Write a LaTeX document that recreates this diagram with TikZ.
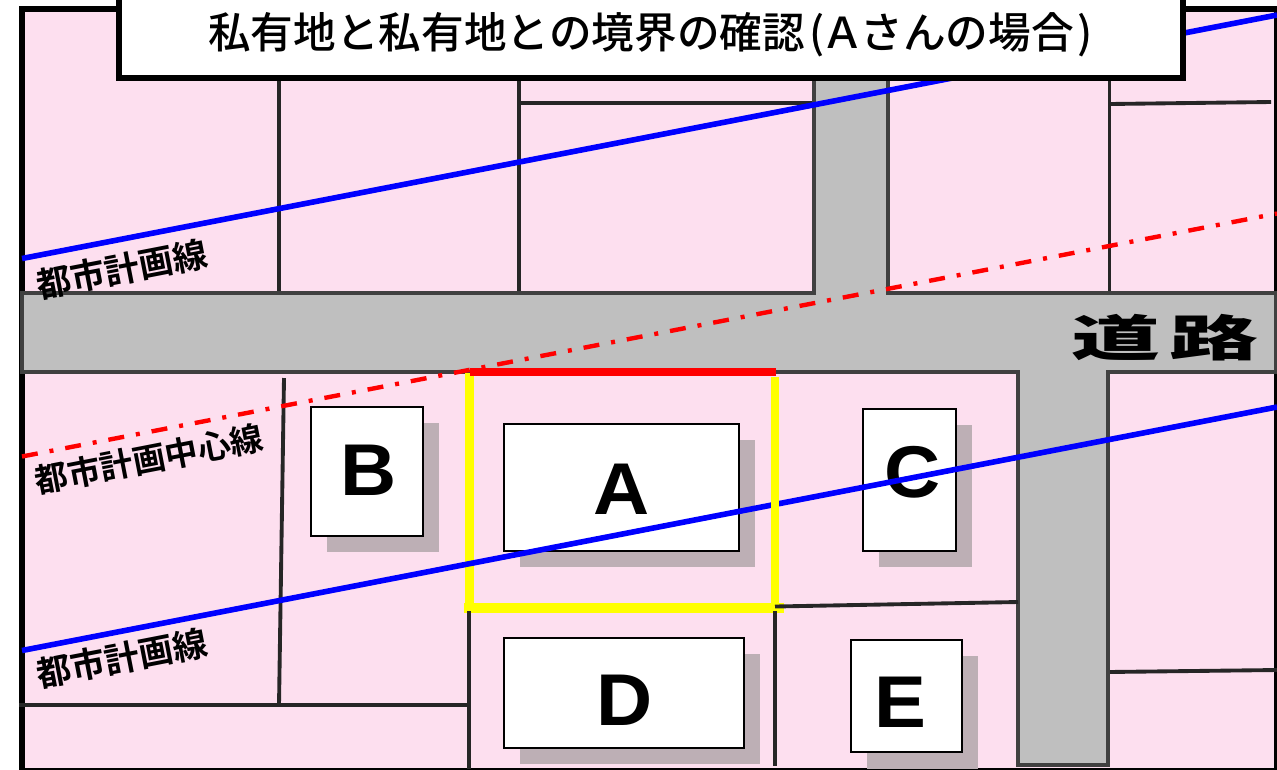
\documentclass[tikz,border=0pt]{standalone}
\usepackage{fontspec}
\setmainfont{Liberation Sans}
\newfontfamily\jp{Noto Sans CJK JP Medium}
\newfontfamily\jplabel{Noto Sans CJK JP Bold}
\newfontfamily\jpb{Noto Sans CJK JP Black}
\definecolor{pinkland}{HTML}{FDDFEF}
\definecolor{roadgray}{HTML}{BFBFBF}
\definecolor{roadedge}{HTML}{404040}
\definecolor{lotline}{HTML}{262626}
\definecolor{shadowc}{HTML}{BDAFB5}
\definecolor{yellowc}{HTML}{FFFF00}
\definecolor{redc}{HTML}{FF0000}
\definecolor{bluec}{HTML}{0000FF}
\tikzset{
  x=0.75pt,y=-0.75pt,
  lot/.style={draw=lotline,line width=2.9pt},
  bld/.style={draw=black,fill=white,line width=1.5pt},
  shadowrect/.style={fill=shadowc},
  letter/.style={font=\fontsize{55}{55}\selectfont\bfseries,inner sep=0pt,text=black},
  plan/.style={rotate=11,font=\jplabel\fontsize{#1}{#1}\selectfont,inner sep=0pt,text=black},
  citybl/.style={draw=bluec,line width=4.2pt},
  parcel/.style={draw=yellowc,line width=#1},
}
\newcommand{\bigletter}[1]{\scalebox{1.06}[1]{#1}}
\begin{document}
\begin{tikzpicture}
\useasboundingbox (0,0) rectangle (1277,769);
\clip (0,0) rectangle (1277,769);
\fill[white] (0,0) rectangle (1277,769);
% land
\draw[fill=pinkland,line width=3.8pt] (22,9) rectangle (1277,771);
% lot lines
\draw[lot] (279,78) -- (279,293);
\draw[lot] (519,78) -- (519,293);
\draw[lot] (519,103) -- (814,103);
\draw[lot] (1109.5,78) -- (1109.5,293);
\draw[lot] (1109.5,104) -- (1271,102);
\draw[lot] (284,378) -- (279,705);
\draw[lot] (19,705) -- (467,705);
\draw[lot] (1108,672) -- (1277,670);
% roads
\draw[fill=roadgray,draw=roadedge,line width=2.9pt,line join=miter]
  (22,293) -- (814,293) -- (814,70) -- (888,70) -- (888,293) -- (1276,293) -- (1276,372)
  -- (1108,372) -- (1108,765) -- (1018,765) -- (1018,372) -- (22,372) -- cycle;
\node[font=\jpb\fontsize{37}{37}\selectfont,inner sep=0pt] (roadlabel) at (1165,338) {\scalebox{1.8}[1]{道\hspace{4pt}路}};
% shadows
\fill[shadowrect] (327,423) rectangle (439,552);
\fill[shadowrect] (520,440) rectangle (755,567);
\fill[shadowrect] (879,425) rectangle (972,567);
\fill[shadowrect] (520,654) rectangle (760,764);
\fill[shadowrect] (867,656) rectangle (978,769);
% buildings
\draw[bld] (311,407) rectangle (423,536);
\draw[bld] (504,424) rectangle (739,551);
\draw[bld] (863,409) rectangle (956,551);
\draw[bld] (504,638) rectangle (744,748);
\draw[bld] (851,640) rectangle (962,752);
\node[letter] (lb) at (368.5,470) {\bigletter{B}};
\node[letter] (la) at (622,489) {\bigletter{A}};
\node[letter] (lc) at (913,472) {\bigletter{C}};
\node[letter] (ld) at (624.5,700) {\bigletter{D}};
\node[letter] (le) at (900,702) {\bigletter{E}};
% parcel A, left side beneath the planning line
\draw[parcel=6.6pt] (469.5,373) -- (469.5,608);
% city planning lines
\draw[citybl] (22,258.5) -- (1277,15);
\draw[citybl] (22,650.5) -- (1277,407);
% parcel A, right and bottom sides above it
\draw[parcel=6pt] (775,377) -- (775,608);
\draw[parcel=7.2pt] (464,608) -- (784,608);
\draw[lot] (775,606.5) -- (1018,602);
\draw[lot] (469,611) -- (469,769);
\draw[lot] (775,611) -- (775,766);
\draw[draw=redc,line width=3.3pt,dash pattern=on 12pt off 9pt on 3pt off 9pt] (22,456.5) -- (1277,213.5);
\draw[draw=redc,line width=5.8pt] (469.5,372) -- (775.5,372);
% labels
\node[plan=26] (l1) at (122,269) {都市計画線};
\node[plan=24.8] (l2) at (149,459) {都市計画中心線};
\node[plan=26] (l3) at (122,658) {都市計画線};
% title
\draw[draw=black,fill=white,line width=4.3pt] (119,-10) rectangle (1183,78);
\node[font=\jp\fontsize{32}{32}\selectfont,inner sep=0pt,anchor=west] (title) at (208,35) {私有地と私有地との境界の確認\hspace{3pt}(\hspace{-2pt}Ａ\hspace{-3pt}さんの場合\hspace{3pt})};
\end{tikzpicture}
\end{document}
